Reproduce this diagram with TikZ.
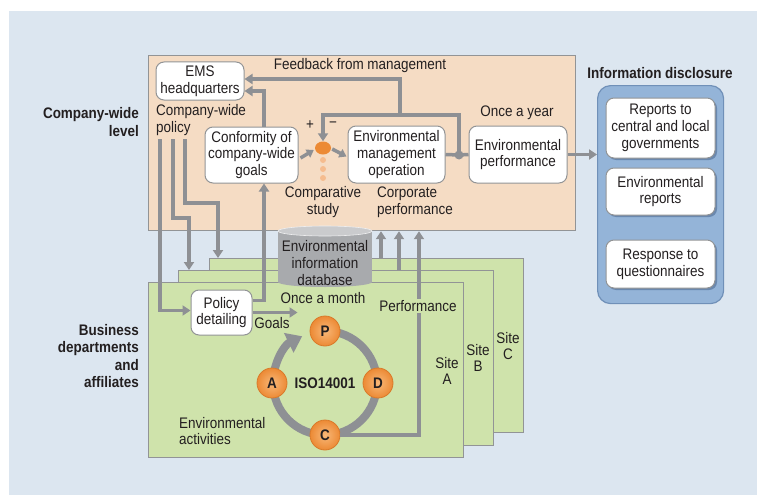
\documentclass[tikz,border=0pt]{standalone}
\usepackage{fontspec}
\setmainfont{Liberation Sans}[FakeStretch=0.88]
\usetikzlibrary{arrows.meta,shadows,calc,shapes.geometric}
\definecolor{bgblue}{HTML}{DCE6F0}
\definecolor{peach}{HTML}{F5DCC4}
\definecolor{sitegreen}{HTML}{CFE3AB}
\definecolor{framegray}{HTML}{929496}
\definecolor{flowgray}{HTML}{8E9094}
\definecolor{infoblue}{HTML}{94B4D8}
\definecolor{infoedge}{HTML}{7090B8}
\definecolor{infoshadow}{HTML}{6A88AE}
\definecolor{txt}{HTML}{231F20}
\definecolor{orng}{HTML}{EC8A35}
\definecolor{orngin}{HTML}{F8B878}
\definecolor{orngedge}{HTML}{D97A2A}
\definecolor{dotlight}{HTML}{F5BC8E}
\definecolor{dbbody}{HTML}{A8AAAD}
\definecolor{dbtop}{HTML}{CACBCD}
\begin{document}
\begin{tikzpicture}[x=1pt,y=-1pt,
  font=\fontsize{15.3}{16.7}\selectfont, text=txt,
  box/.style={draw=framegray, fill=white, rounded corners=8pt, line width=1pt, align=center, inner sep=1pt},
  infobox/.style={box, minimum width=109pt, drop shadow={shadow xshift=2pt, shadow yshift=-2pt, fill=infoshadow, opacity=1}},
  frame/.style={draw=framegray, line width=1.2pt, anchor=north west, inner sep=0pt},
  flow/.style={draw=flowgray, line width=3.5pt},
  tip/.style={-{Triangle[width=10pt,length=8pt]}},
  smalltip/.style={-{Triangle[width=9pt,length=7pt]}},
  pdca/.style={circle, minimum size=30pt, inner sep=0pt, draw=orngedge, line width=0.8pt, inner color=orngin, outer color=orng, font=\fontsize{15.3}{16}\selectfont\bfseries},
  lbl/.style={align=center, inner sep=0pt},
  lbll/.style={align=left, inner sep=0pt, anchor=west},
  bold/.style={font=\fontsize{15.3}{17.5}\selectfont\bfseries}]
\useasboundingbox (0,0) rectangle (757,495);
\fill[white] (0,0) rectangle (757,495);
\fill[bgblue] (9,11) rectangle (757,495);

% frames
\node[frame, fill=peach, minimum width=427pt, minimum height=175pt] (peach) at (148,55) {};
\node[frame, fill=sitegreen, minimum width=314pt, minimum height=174pt] (siteC) at (209,258) {};
\node[frame, fill=sitegreen, minimum width=315pt, minimum height=175pt] (siteB) at (178,270) {};
\node[frame, fill=sitegreen, minimum width=315pt, minimum height=175pt] (siteA) at (148,282) {};
\node[frame, fill=infoblue, draw=infoedge, rounded corners=13pt, minimum width=126pt, minimum height=218pt] (info) at (597,85) {};

% side labels
\node[bold, align=right, anchor=east, inner sep=0pt] (cwl) at (139,122) {Company-wide\\level};
\node[bold, align=right, anchor=east, inner sep=0pt] (bda) at (139,356) {Business\\departments\\and\\affiliates};
\node[bold, inner sep=0pt] (infot) at (660,73) {Information disclosure};

% boxes
\node[box, minimum width=88pt, minimum height=38pt] (ems) at (200,81) {EMS\\headquarters};
\node[box, minimum width=93pt, minimum height=56pt] (conf) at (251.5,155) {Conformity of\\company-wide\\goals};
\node[box, minimum width=97pt, minimum height=57pt] (emo) at (396.5,154.5) {Environmental\\management\\operation};
\node[box, minimum width=98pt, minimum height=57pt] (perf) at (518,154.5) {Environmental\\performance};
\node[box, minimum width=61pt, minimum height=45pt] (pold) at (221.5,312.5) {Policy\\detailing};
\node[infobox, minimum height=60pt] (rep1) at (660.5,128) {Reports to\\central and local\\governments};
\node[infobox, minimum height=47pt] (rep2) at (660.5,191.5) {Environmental\\reports};
\node[infobox, minimum height=48pt] (rep3) at (660.5,264) {Response to\\questionnaires};

% texts
\node[lbl] (fbm) at (360,66) {Feedback from management};
\node[lbll] (cwp) at (156,120) {Company-wide\\policy};
\node[lbl] (plus) at (310,125) {+};
\node[lbl] (minus) at (333,125) {\char"2212};
\node[lbl] (cmp) at (323,202) {Comparative\\study};
\node[lbll] (cpf) at (377,202) {Corporate\\performance};
\node[lbl] (oay) at (517,113) {Once a year};
\node[lbl] (oam) at (323,298) {Once a month};
\node[lbl] (goals) at (272,323) {Goals};
\node[lbl] (sa) at (447,371) {Site\\A};
\node[lbl] (sb) at (478,358) {Site\\B};
\node[lbl] (sc) at (508,346) {Site\\C};
\node[lbll] (ea) at (179,431) {Environmental\\activities};

% comparison dot
\node[ellipse, fill=orng, minimum width=16pt, minimum height=13pt, inner sep=0pt] (odot) at (323,148) {};
\foreach \yy/\nm in {160/d1,169/d2,178/d3}
  \node[circle, fill=dotlight, minimum size=6pt, inner sep=0pt] (\nm) at (323,\yy) {};

% database
\fill[dbbody] (278,231) rectangle (372,282);
\fill[dbbody] (325,282) ellipse [x radius=47, y radius=5];
\fill[dbtop] (325,231) ellipse [x radius=47, y radius=5];
\draw[white!80!dbbody, line width=0.6pt] (325,231) ellipse [x radius=47, y radius=5];
\node[lbl] (db) at (325,263) {Environmental\\information\\database};

% connectors in company-wide level
\coordinate (J) at (459,155);
\draw[flow] (emo.east) -- (J) -- (perf.west);
\fill[flowgray] (J) circle (4.5pt);
\draw[flow,tip] (J) -- (459,115) -| (odot.north);
\draw[flow,tip] (400,115) |- ($(ems.east)+(0,-2)$);
\draw[flow,tip] ($(conf.north)+(12.5,0)$) |- ($(ems.east)+(0,10)$);
\draw[flow,smalltip] ($(conf.east)+(2,3)$) -- ($(odot.west)+(-1,2)$);
\draw[flow,smalltip] ($(odot.east)+(1,1)$) -- ($(emo.west)+(-1,2)$);
\draw[flow,tip] (perf.east) -- (info.west |- perf.east);

% policy lines
\coordinate (p1) at (160,139);
\coordinate (p2) at (173,139);
\coordinate (p3) at (185,139);
\draw[flow,tip] (p1) |- ($(pold.west)+(0,-2)$);
\draw[flow,tip] (p2) -- (173,218) -| ($(siteB.north west)+(11,0)$);
\draw[flow,tip] (p3) -- (185,203) -| ($(siteC.north west)+(9,0)$);
\draw[flow,tip] ($(pold.east)+(0,-12)$) -| ($(conf.south)+(12.5,0)$);
\draw[flow,tip] (pold.east) -- ++(45,0);

% up arrows
\draw[flow,tip] (381,0 |- siteC.north) -- (381,0 |- peach.south);
\draw[flow,tip] (399,0 |- siteB.north) -- (399,0 |- peach.south);

% PDCA ring
\coordinate (rc) at (325,383);
\draw[flowgray, line width=8pt, -{Triangle[width=21pt,length=15pt]}] ($(rc)+(90:52pt)$) arc[start angle=90, end angle=-244, radius=52pt];
\node[pdca] (P) at ($(rc)+(90:52pt)$) {P};
\node[pdca] (D) at ($(rc)+(0:53pt)$) {D};
\node[pdca] (C) at ($(rc)+(-90:52pt)$) {C};
\node[pdca] (A) at ($(rc)+(180:53pt)$) {A};
\node[lbl, bold] (iso) at (rc) {ISO14001};

\draw[flow,tip] (C.east) -| (419,0 |- peach.south);
\node[lbl, fill=sitegreen, inner sep=1.5pt] (pf) at (418,306) {Performance};
\end{tikzpicture}
\end{document}
